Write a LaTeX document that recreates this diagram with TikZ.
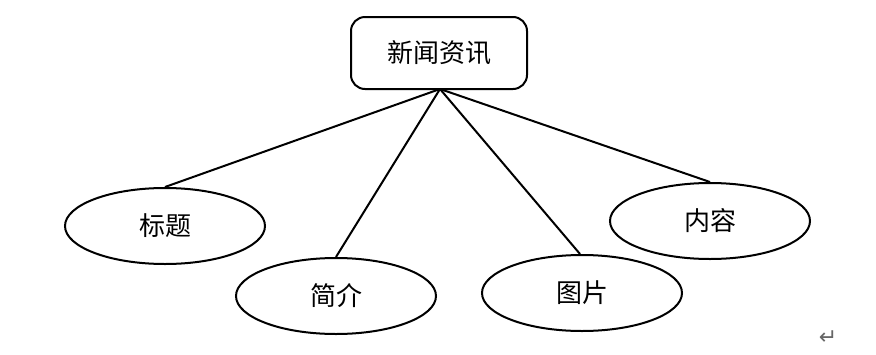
\documentclass[tikz,border=0pt]{standalone}
\usepackage{fontspec}
\newfontfamily\cjk{Noto Sans CJK SC}[Scale=1]
\newfontfamily\sym{DejaVu Sans}
\usetikzlibrary{shapes.geometric}
\tikzset{
  box/.style={draw, line width=2pt, rounded corners=14pt, minimum width=176pt, minimum height=72pt, font=\cjk\fontsize{26}{26}\selectfont, inner sep=0pt},
  oval/.style={draw, ellipse, line width=2pt, minimum width=200pt, minimum height=76pt, font=\cjk\fontsize{26}{26}\selectfont, inner sep=0pt},
  link/.style={line width=2pt}
}
\begin{document}
\begin{tikzpicture}[x=1pt,y=-1pt]
\useasboundingbox (0,0) rectangle (876,354);
\node[box] (news) at (439,53) {新闻资讯};
\coordinate (hub) at (440,89);
\node[oval] (title) at (165,226) {标题};
\node[oval] (intro) at (336,296) {简介};
\node[oval] (pic) at (582,293) {图片};
\node[oval] (content) at (710,221) {内容};
\draw[link] (hub) -- (title.north);
\draw[link] (hub) -- (intro.north);
\draw[link] (hub) -- ([xshift=-2pt]pic.north);
\draw[link] (hub) -- (content.north);
\node[font=\sym\fontsize{22}{22}\selectfont, text=gray!80!black] (mark) at (828,338) {↵};
\end{tikzpicture}
\end{document}
